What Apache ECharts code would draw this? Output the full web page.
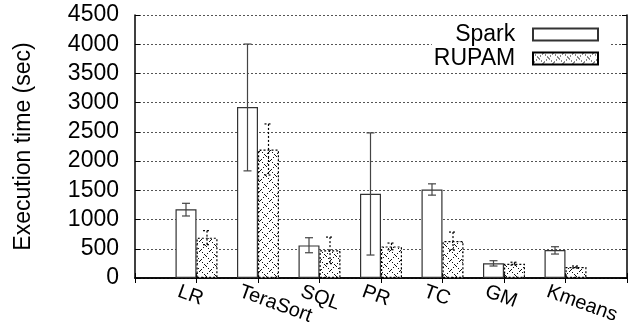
<!DOCTYPE html>
<html>
<head>
<meta charset="utf-8">
<script src="https://cdn.jsdelivr.net/npm/echarts@6/dist/echarts.min.js"></script>
<style>
  html, body { margin: 0; padding: 0; background: #fff; }
  #chart { width: 629px; height: 328px; }
</style>
</head>
<body>
<div id="chart"></div>
<script>
var categories = ['LR', 'TeraSort', 'SQL', 'PR', 'TC', 'GM', 'Kmeans'];
var sparkTime = [1175, 2927, 558, 1440, 1515, 251, 478];
var sparkLow  = [1061, 1833, 432, 393, 1418, 205, 410];
var sparkHigh = [1278, 4003, 689, 2483, 1611, 296, 535];
var rupamTime = [690, 2199, 473, 541, 632, 245, 188];
var rupamLow  = [570, 1762, 246, 484, 478, 220, 170];
var rupamHigh = [810, 2636, 700, 598, 786, 270, 205];
var yTicks = [0, 500, 1000, 1500, 2000, 2500, 3000, 3500, 4000, 4500];

// gnuplot style dotted cross-hatch
function hatch() {
    var c = document.createElement('canvas');
    c.width = 10; c.height = 10;
    var ctx = c.getContext('2d');
    ctx.fillStyle = '#fff';
    ctx.fillRect(0, 0, 10, 10);
    ctx.fillStyle = '#111';
    for (var i = 0; i < 10; i += 2) {
        ctx.fillRect(i, i, 1, 1);
        ctx.fillRect(9 - i, i + 1, 1, 1);
    }
    return c;
}

var padded = [''].concat(categories, ['']);
function pad(arr) { return [null].concat(arr, [null]); }
function errData(lo, hi) {
    return lo.map(function (v, i) { return [i + 1, v, hi[i]]; });
}

var barW = 21;
function errRender(shift, dashed, color) {
    return function (params, api) {
        var top = api.coord([api.value(0), api.value(2)]);
        var bot = api.coord([api.value(0), api.value(1)]);
        var x = top[0] + shift;
        var st = { stroke: color, lineWidth: 1.2, lineDash: dashed ? [2, 2] : null };
        return {
            type: 'group',
            children: [
                { type: 'line', shape: { x1: x, y1: top[1], x2: x, y2: bot[1] }, style: st },
                { type: 'line', shape: { x1: x - 4, y1: top[1], x2: x + 4, y2: top[1] }, style: st },
                { type: 'line', shape: { x1: x - 4, y1: bot[1], x2: x + 4, y2: bot[1] }, style: st }
            ]
        };
    };
}

var myChart = echarts.init(document.getElementById('chart'));
var font = 'Liberation Sans, Arial, sans-serif';

var option = {
    animation: false,
    textStyle: { fontFamily: font, color: '#000' },
    grid: [
        { left: 135, right: 2, top: 15, bottom: 50 },
        { left: 117, right: 20, top: 15, bottom: 50 }
    ],
    legend: {
        data: ['Spark', 'RUPAM'],
        orient: 'vertical',
        align: 'right',
        icon: 'rect',
        right: 18,
        top: 20,
        padding: [3, 12, 3, 2],
        itemGap: 1,
        itemWidth: 65,
        itemHeight: 12,
        backgroundColor: '#fff',
        formatter: function (name) { return name + '  '; },
        textStyle: { fontSize: 23, color: '#000', fontFamily: font }
    },
    xAxis: [
        {
            type: 'category', gridIndex: 0, data: padded, boundaryGap: false,
            axisLine: { lineStyle: { color: '#000', width: 1.5 } },
            axisTick: { inside: true, length: 5, lineStyle: { color: '#000' } },
            axisLabel: { show: false }
        },
        {
            type: 'category', gridIndex: 0, position: 'top', data: padded, boundaryGap: false,
            axisLine: { lineStyle: { color: '#000', width: 1.5 } },
            axisTick: { inside: true, length: 5, lineStyle: { color: '#000' } },
            axisLabel: { show: false }
        },
        {
            type: 'category', gridIndex: 1, data: padded, boundaryGap: false,
            axisLine: { show: false }, axisTick: { show: false },
            axisLabel: { rotate: -20, fontSize: 20, color: '#000', margin: 13, fontFamily: font, interval: 0 }
        }
    ],
    yAxis: [
        {
            type: 'value', gridIndex: 0, min: yTicks[0], max: yTicks[yTicks.length - 1], interval: 500,
            name: 'Execution time (sec)', nameLocation: 'middle', nameGap: 100,
            nameTextStyle: { fontSize: 23, color: '#000', fontFamily: font },
            axisLine: { show: true, lineStyle: { color: '#000', width: 1.5 } },
            axisTick: { show: true, inside: true, length: 5, lineStyle: { color: '#000' } },
            axisLabel: { fontSize: 23, color: '#000', margin: 16, fontFamily: font,
                formatter: function (v) { return String(v); } },
            splitLine: { show: true, lineStyle: { type: [2, 2], color: '#555', width: 1 } }
        },
        {
            type: 'value', gridIndex: 0, position: 'right', min: yTicks[0], max: yTicks[yTicks.length - 1], interval: 500,
            axisLine: { show: true, lineStyle: { color: '#000', width: 1.5 } },
            axisTick: { show: true, inside: true, length: 5, lineStyle: { color: '#000' } },
            axisLabel: { show: false },
            splitLine: { show: false }
        },
        {
            type: 'value', gridIndex: 1, show: false, min: 0, max: 4500
        }
    ],
    series: [
        {
            name: 'Spark', type: 'bar', xAxisIndex: 0, yAxisIndex: 0,
            data: pad(sparkTime), barWidth: barW, barGap: '0%',
            itemStyle: { color: '#fff', borderColor: '#333', borderWidth: 1.2 }
        },
        {
            name: 'RUPAM', type: 'bar', xAxisIndex: 0, yAxisIndex: 0,
            data: pad(rupamTime), barWidth: barW, barGap: '0%',
            itemStyle: { color: { image: hatch(), repeat: 'repeat' }, borderColor: '#000', borderWidth: 1.2, borderType: [2, 2] }
        },
        {
            type: 'custom', xAxisIndex: 0, yAxisIndex: 0, z: 5,
            data: errData(sparkLow, sparkHigh),
            renderItem: errRender(-barW / 2, false, '#444')
        },
        {
            type: 'custom', xAxisIndex: 0, yAxisIndex: 0, z: 5,
            data: errData(rupamLow, rupamHigh),
            renderItem: errRender(barW / 2, true, '#000')
        }
    ]
};

myChart.setOption(option);
</script>
</body>
</html>
